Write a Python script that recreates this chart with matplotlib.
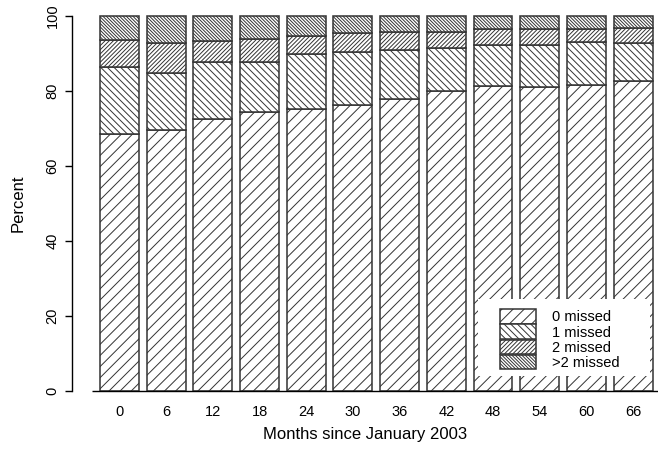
import numpy as np
import matplotlib
matplotlib.use("Agg")
import matplotlib.pyplot as plt
from matplotlib.patches import Rectangle

plt.rcParams['font.family'] = ['Liberation Sans', 'DejaVu Sans']
plt.rcParams['hatch.linewidth'] = 0.7

# data (percent of patients per group)
months = ['0', '6', '12', '18', '24', '30', '36', '42', '48', '54', '60', '66']
missed0 = [68.5, 69.5, 72.5, 74.5, 75.2, 76.3, 77.9, 80.1, 81.3, 81.2, 81.6, 82.7]
missed1 = [18.0, 15.4, 15.3, 13.3, 14.8, 14.2, 13.0, 11.5, 11.0, 11.1, 11.6, 10.2]
missed2 = [7.1, 7.8, 5.6, 6.0, 4.7, 5.1, 4.7, 4.2, 4.2, 4.2, 3.3, 3.8]
missed3 = [6.4, 7.3, 6.6, 6.2, 5.3, 4.4, 4.4, 4.2, 3.5, 3.5, 3.5, 3.3]
labels = ['0 missed', '1 missed', '2 missed', '>2 missed']
hatches = ['/' * 3, '\\' * 5, '/' * 8, '\\' * 10]

W, H = 658, 450
fig = plt.figure(figsize=(W / 100, H / 100), dpi=100)
ax = fig.add_axes([72 / W, (H - 391) / H, (W - 72) / W, 375 / H])

x = 0.7 + 1.2 * np.arange(len(months))  # R barplot style positions
bottom = np.zeros(len(months))
handles = []
for vals, lab, h in zip([missed0, missed1, missed2, missed3], labels, hatches):
    b = ax.bar(x, vals, width=1.0, bottom=bottom, color='white',
               edgecolor='#333333', linewidth=1.1, hatch=h, label=lab,
               clip_on=False)
    handles.append(b)
    bottom += np.array(vals)

ax.set_xlim(-0.52, 14.54)
ax.set_ylim(0, 100)

# baseline under the bars
ax.plot([-0.0, 14.55], [0, 0], color='black', lw=1.0, clip_on=False,
        solid_capstyle='butt')

for s in ['top', 'right', 'bottom']:
    ax.spines[s].set_visible(False)
ax.spines['left'].set_linewidth(1.0)
ax.spines['left'].set_bounds(0, 100)

ax.set_yticks([0, 20, 40, 60, 80, 100])
ax.set_yticklabels(['0', '20', '40', '60', '80', '100'], rotation=90,
                   va='center', fontsize=10.5)
ax.tick_params(axis='y', length=5, width=1.0, pad=4)
ax.set_xticks(x)
ax.set_xticklabels(months, fontsize=10.5)
ax.tick_params(axis='x', length=0, pad=10)

ax.set_xlabel('Months since January 2003', fontsize=12, labelpad=6)
ax.set_ylabel('Percent', fontsize=12, labelpad=14)

# white legend background like R's legend box
ax.add_patch(Rectangle(((478 - 72) / 586, (391 - 376) / 375),
                       (650 - 478) / 586, (376 - 299) / 375,
                       transform=ax.transAxes, facecolor='white',
                       edgecolor='none', zorder=5, clip_on=False))
leg = ax.legend(handles=handles, labels=labels, loc='lower left',
                bbox_to_anchor=((500 - 72) / 586, (391 - 370) / 375),
                frameon=False, fontsize=10.5, handlelength=2.45,
                handleheight=1.15, labelspacing=0.0, handletextpad=1.1,
                borderpad=0.0, borderaxespad=0.0)
leg.set_zorder(6)

fig.savefig('out.png', dpi=100)
